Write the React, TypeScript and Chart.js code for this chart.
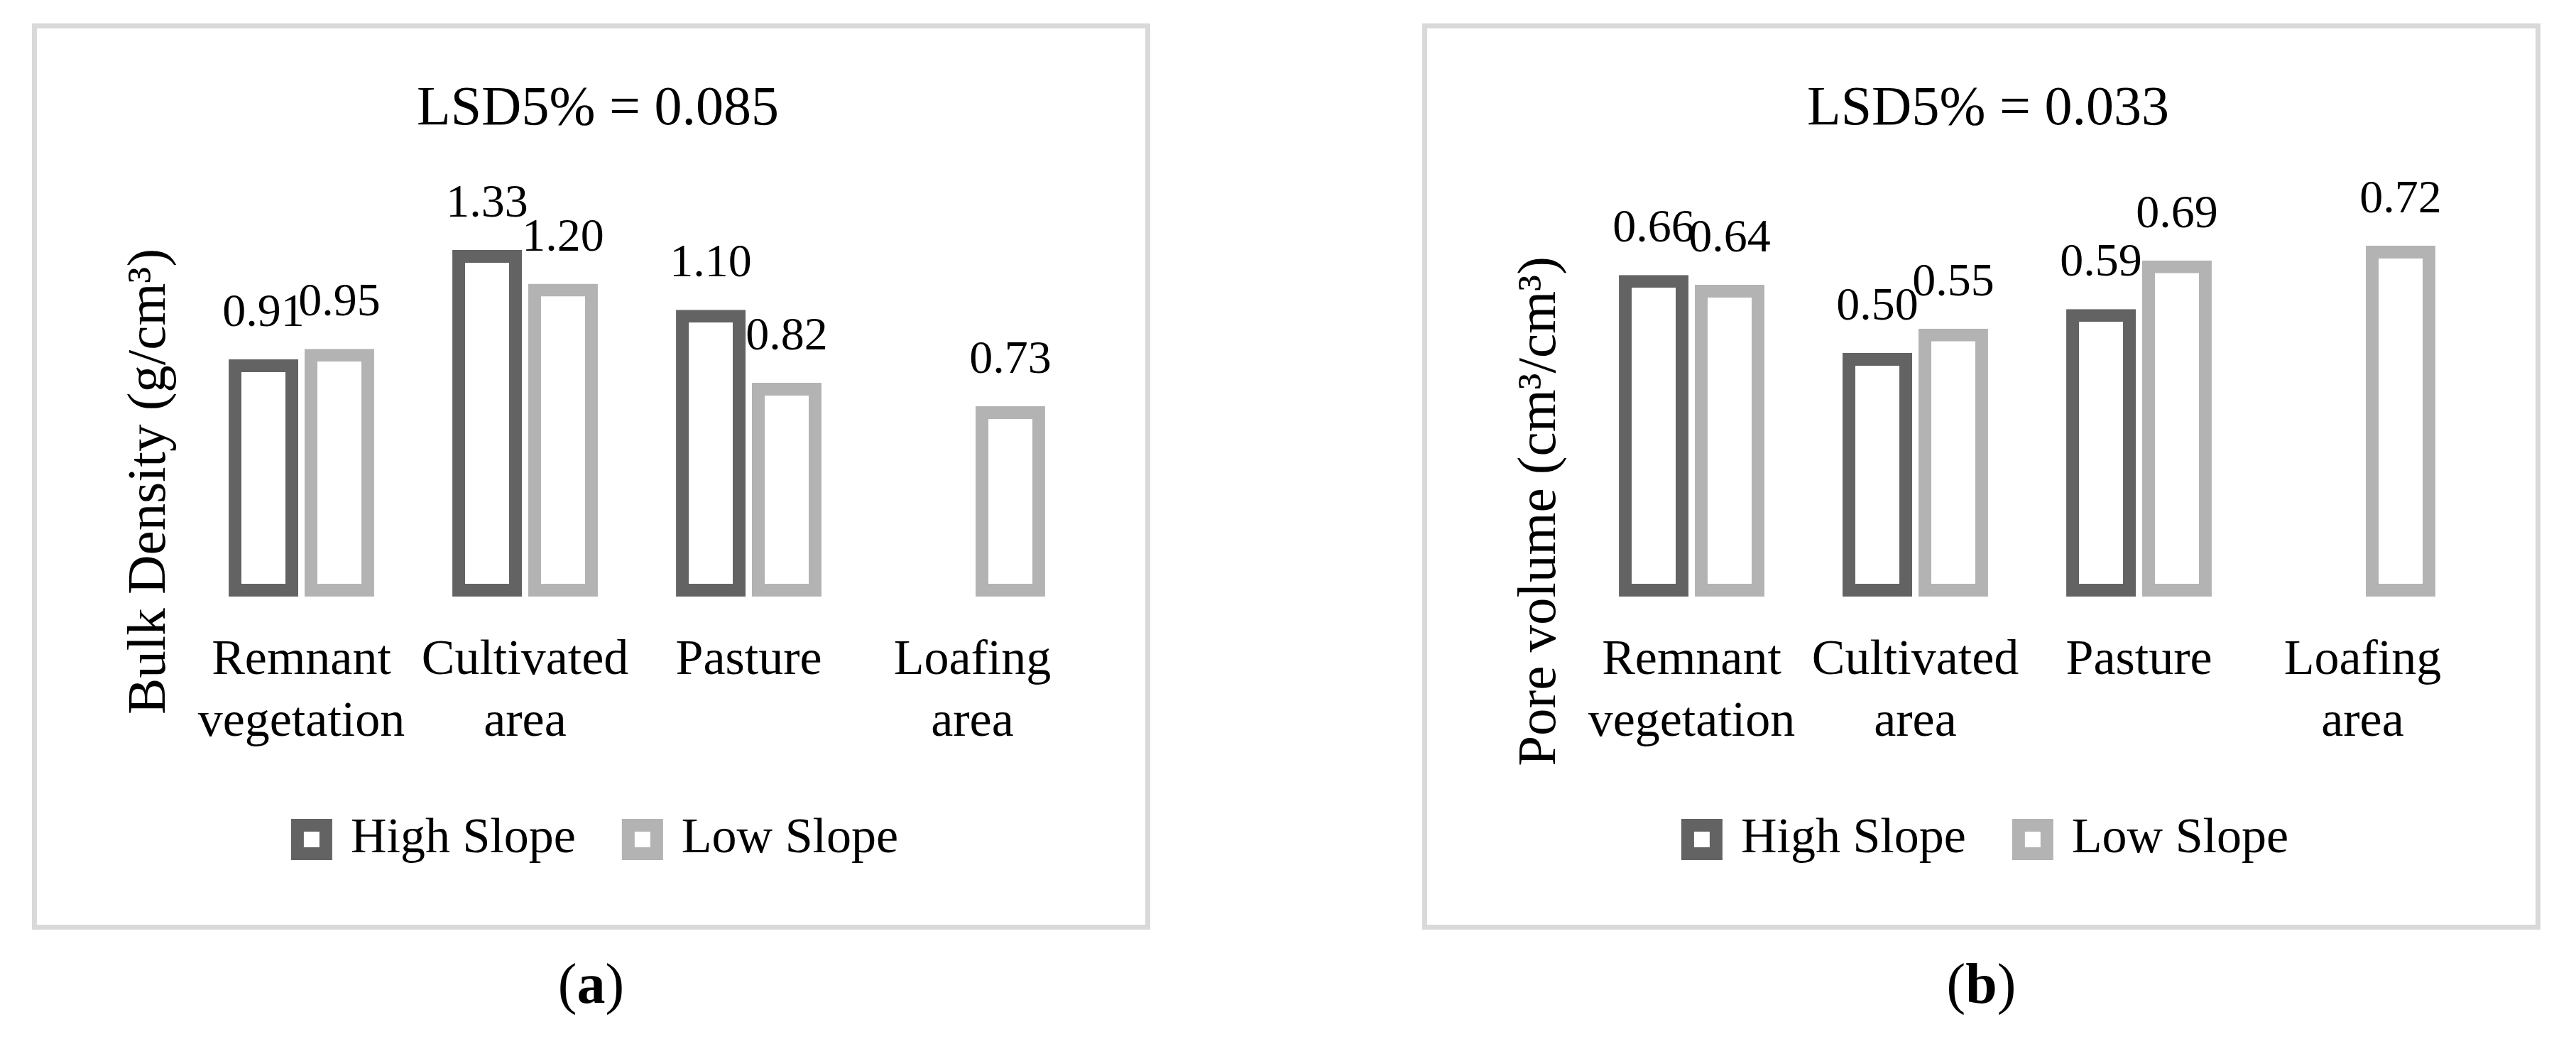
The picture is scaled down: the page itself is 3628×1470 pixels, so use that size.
import React, { useEffect, useRef } from 'react';
import { Chart, registerables } from 'chart.js';

Chart.register(...registerables);

// ---------- data ----------
const categories: string[][] = [
  ['Remnant', 'vegetation'],
  ['Cultivated', 'area'],
  ['Pasture'],
  ['Loafing', 'area'],
];
const seriesNames = ['High Slope', 'Low Slope'];
const bulkHigh: (number | null)[] = [0.91, 1.33, 1.1, null];
const bulkLow: (number | null)[] = [0.95, 1.2, 0.82, 0.73];
const poreHigh: (number | null)[] = [0.66, 0.5, 0.59, null];
const poreLow: (number | null)[] = [0.64, 0.55, 0.69, 0.72];
const chartTitles = ['LSD5% = 0.085', 'LSD5% = 0.033'];
const yTitles = ['Bulk Density (g/cm³)', 'Pore volume (cm³/cm³)'];
const yMaxes = [1.6, 0.86];
const captions = ['a', 'b'];

// ---------- style ----------
const FONT = "'Liberation Serif', 'Times New Roman', serif";
const DARK = '#636363';
const LIGHT = '#b3b3b3';
const FRAME = '#d9d9d9';

const PANEL_W = 1575;
const PANEL_H = 1276;
const FRAME_W = 7;
const CANVAS_W = PANEL_W - 2 * FRAME_W;
const CANVAS_H = PANEL_H - 2 * FRAME_W;

const yTitlePlugin = {
  id: 'yTitle',
  afterDraw(chart: any, _args: any, opts: any) {
    const ctx = chart.ctx;
    ctx.save();
    ctx.font = `${opts.size}px ${FONT}`;
    ctx.fillStyle = '#000';
    ctx.textAlign = 'center';
    ctx.textBaseline = 'alphabetic';
    ctx.translate(opts.x, opts.y);
    ctx.rotate(-Math.PI / 2);
    ctx.fillText(opts.text, 0, 0);
    ctx.restore();
  },
};

const valueLabelPlugin = {
  id: 'valueLabels',
  afterDatasetsDraw(chart: any, _args: any, opts: any) {
    const ctx = chart.ctx;
    ctx.save();
    ctx.font = `${opts.size}px ${FONT}`;
    ctx.fillStyle = '#000';
    ctx.textAlign = 'center';
    ctx.textBaseline = 'alphabetic';
    chart.data.datasets.forEach((ds: any, i: number) => {
      const meta = chart.getDatasetMeta(i);
      meta.data.forEach((el: any, j: number) => {
        const v = ds.data[j];
        if (v === null || v === undefined) return;
        ctx.fillText(Number(v).toFixed(2), el.x, el.y - opts.offset);
      });
    });
    ctx.restore();
  },
};

interface PanelProps {
  left: number;
  high: (number | null)[];
  low: (number | null)[];
  title: string;
  yTitle: string;
  yMax: number;
  titlePadBottom: number;
  yTitleY: number;
  caption: string;
}

function Panel(p: PanelProps) {
  const ref = useRef<HTMLCanvasElement | null>(null);
  useEffect(() => {
    if (!ref.current) return;
    const chart = new Chart(ref.current, {
      type: 'bar',
      data: {
        labels: categories as any,
        datasets: [
          {
            label: seriesNames[0],
            data: p.high as any,
            backgroundColor: '#ffffff',
            borderColor: DARK,
            borderWidth: 18,
            borderSkipped: false,
            categoryPercentage: 0.679,
            barPercentage: 0.916,
          },
          {
            label: seriesNames[1],
            data: p.low as any,
            backgroundColor: '#ffffff',
            borderColor: LIGHT,
            borderWidth: 18,
            borderSkipped: false,
            categoryPercentage: 0.679,
            barPercentage: 0.916,
          },
        ],
      },
      options: {
        responsive: false,
        animation: false,
        devicePixelRatio: 1,
        layout: { padding: { left: 105, right: 86, top: 0, bottom: 75 } },
        scales: {
          x: {
            grid: { display: false, drawTicks: false },
            border: { display: false },
            ticks: {
              color: '#000',
              font: { family: FONT, size: 70, lineHeight: '87px' as any },
              padding: 47,
              maxRotation: 0,
              minRotation: 0,
              autoSkip: false,
            },
            afterFit: (s: any) => {
              s.height = 233;
            },
          },
          y: {
            min: 0,
            max: p.yMax,
            grid: { display: false, drawTicks: false },
            border: { display: false },
            ticks: { display: false },
            afterFit: (s: any) => {
              s.width = 110;
            },
          },
        },
        plugins: {
          legend: {
            position: 'bottom',
            labels: {
              color: '#000',
              font: { family: FONT, size: 70 },
              boxWidth: 40,
              boxHeight: 40,
              padding: 74,
            },
          },
          title: {
            display: true,
            text: p.title,
            color: '#000',
            font: { family: FONT, size: 78, weight: 'normal', lineHeight: 1.2 },
            padding: { top: 68, bottom: p.titlePadBottom },
          },
          tooltip: { enabled: false },
          yTitle: { text: p.yTitle, x: 180, y: p.yTitleY, size: 77 },
          valueLabels: { size: 66, offset: 47 },
        } as any,
      },
      plugins: [yTitlePlugin, valueLabelPlugin],
    });
    return () => chart.destroy();
  }, []);

  return (
    <>
      <div
        style={{
          position: 'absolute',
          left: p.left,
          top: 33,
          width: PANEL_W,
          height: PANEL_H,
          boxSizing: 'border-box',
          border: `${FRAME_W}px solid ${FRAME}`,
          background: '#fff',
        }}
      >
        <canvas
          ref={ref}
          width={CANVAS_W}
          height={CANVAS_H}
          style={{ display: 'block', width: CANVAS_W, height: CANVAS_H }}
        />
      </div>
      <div
        style={{
          position: 'absolute',
          left: p.left,
          top: 1340,
          width: PANEL_W,
          textAlign: 'center',
          fontFamily: FONT,
          fontSize: 80,
          lineHeight: '90px',
          color: '#000',
        }}
      >
        (<b>{p.caption}</b>)
      </div>
    </>
  );
}

export default function App() {
  return (
    <div
      style={{
        position: 'absolute',
        left: 0,
        top: 0,
        width: 3628,
        height: 1470,
        background: '#fff',
        overflow: 'hidden',
      }}
    >
      <Panel
        left={45}
        high={bulkHigh}
        low={bulkLow}
        title={chartTitles[0]}
        yTitle={yTitles[0]}
        yMax={yMaxes[0]}
        titlePadBottom={51.2}
        yTitleY={638}
        caption={captions[0]}
      />
      <Panel
        left={2003}
        high={poreHigh}
        low={poreLow}
        title={chartTitles[1]}
        yTitle={yTitles[1]}
        yMax={yMaxes[1]}
        titlePadBottom={48.4}
        yTitleY={680}
        caption={captions[1]}
      />
    </div>
  );
}
